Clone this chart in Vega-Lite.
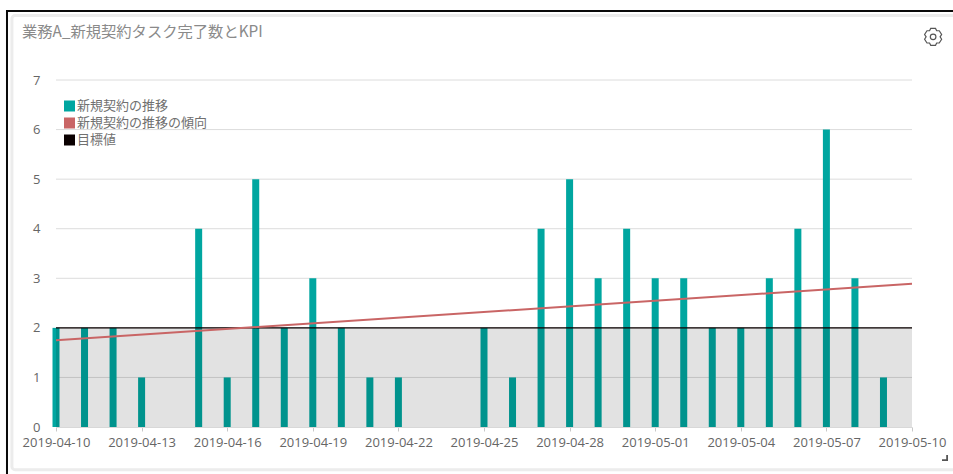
{
"$schema":"https://vega.github.io/schema/vega-lite/v6.json",
"width":856,"height":347,
"autosize":{"type":"none"},
"padding":{"left":56,"top":80,"right":41,"bottom":47},
"background":"#ffffff",
"title":{"text":"業務A_新規契約タスク完了数とKPI","anchor":"start","dx":16,"offset":-30,"font":"Noto Sans CJK JP","fontSize":15.3,"fontWeight":"normal","color":"#8a8a8a"},
"config":{"view":{"stroke":null},"font":"Open Sans"},
"datasets":{
"bars":[
{"date":"2019-04-10","series":"新規契約の推移","count":2},{"date":"2019-04-11","series":"新規契約の推移","count":2},{"date":"2019-04-12","series":"新規契約の推移","count":2},{"date":"2019-04-13","series":"新規契約の推移","count":1},{"date":"2019-04-15","series":"新規契約の推移","count":4},{"date":"2019-04-16","series":"新規契約の推移","count":1},{"date":"2019-04-17","series":"新規契約の推移","count":5},{"date":"2019-04-18","series":"新規契約の推移","count":2},{"date":"2019-04-19","series":"新規契約の推移","count":3},{"date":"2019-04-20","series":"新規契約の推移","count":2},{"date":"2019-04-21","series":"新規契約の推移","count":1},{"date":"2019-04-22","series":"新規契約の推移","count":1},{"date":"2019-04-25","series":"新規契約の推移","count":2},{"date":"2019-04-26","series":"新規契約の推移","count":1},{"date":"2019-04-27","series":"新規契約の推移","count":4},{"date":"2019-04-28","series":"新規契約の推移","count":5},{"date":"2019-04-29","series":"新規契約の推移","count":3},{"date":"2019-04-30","series":"新規契約の推移","count":4},{"date":"2019-05-01","series":"新規契約の推移","count":3},{"date":"2019-05-02","series":"新規契約の推移","count":3},{"date":"2019-05-03","series":"新規契約の推移","count":2},{"date":"2019-05-04","series":"新規契約の推移","count":2},{"date":"2019-05-05","series":"新規契約の推移","count":3},{"date":"2019-05-06","series":"新規契約の推移","count":4},{"date":"2019-05-07","series":"新規契約の推移","count":6},{"date":"2019-05-08","series":"新規契約の推移","count":3},{"date":"2019-05-09","series":"新規契約の推移","count":1}],
"goal":[{"date":"2019-04-10","series":"目標値","value":2},{"date":"2019-05-10","series":"目標値","value":2}],
"trend":[{"date":"2019-04-10","series":"新規契約の推移の傾向","value":1.75},{"date":"2019-05-10","series":"新規契約の推移の傾向","value":2.89}],
"chrome":[{"part":"panel"}],
"gridlines":[{"level":1},{"level":2},{"level":3},{"level":4},{"level":5},{"level":6},{"level":7}]
},
"encoding":{
"x":{"type":"temporal","title":null,
 "scale":{"type":"utc","padding":0,"domain":[{"year":2019,"month":4,"date":10,"utc":true},{"year":2019,"month":5,"date":10,"utc":true}]},
 "axis":{"zindex":1,"values":[{"year":2019,"month":4,"date":10,"utc":true},{"year":2019,"month":4,"date":13,"utc":true},{"year":2019,"month":4,"date":16,"utc":true},{"year":2019,"month":4,"date":19,"utc":true},{"year":2019,"month":4,"date":22,"utc":true},{"year":2019,"month":4,"date":25,"utc":true},{"year":2019,"month":4,"date":28,"utc":true},{"year":2019,"month":5,"date":1,"utc":true},{"year":2019,"month":5,"date":4,"utc":true},{"year":2019,"month":5,"date":7,"utc":true},{"year":2019,"month":5,"date":10,"utc":true}],
  "labelExpr":"utcFormat(datum.value,'%Y-%m-%d')","grid":false,"domainColor":"#d8d8d8","tickColor":"#c8c8c8","tickSize":4,"labelColor":"#666666","labelFont":"Open Sans","labelFontSize":13,"labelPadding":5,"labelFlush":false,"labelOverlap":false}},
"y":{"type":"quantitative","title":null,
 "scale":{"domain":[0,7],"nice":false,"clamp":false},
 "axis":{"zindex":1,"values":[0,1,2,3,4,5,6,7],"format":"d","grid":false,"domain":false,"ticks":false,"labelColor":"#666666","labelFont":"Open Sans","labelFontSize":13,"labelPadding":16}}
},
"layer":[
{"data":{"name":"chrome"},"mark":{"type":"rect","fill":"#ffffff","stroke":"#0a0a0a","strokeWidth":2},
 "encoding":{"x":{"datum":1554706000000},"x2":{"datum":1557700000000},"y":{"datum":8.39},"y2":{"datum":-1.2}}},
{"data":{"name":"chrome"},"mark":{"type":"rect","fill":"#ffffff","stroke":"#ececec","strokeWidth":3,"cornerRadius":3},
 "encoding":{"x":{"datum":1554721000000},"x2":{"datum":1557700000000},"y":{"datum":8.3},"y2":{"datum":-0.86}}},
{"data":{"name":"gridlines"},"mark":{"type":"rule","color":"#dcdcdc","strokeWidth":1},"encoding":{"y":{"field":"level"}}},
{"data":{"name":"bars"},"mark":{"type":"bar","width":7},"encoding":{"x":{"field":"date"},"y":{"field":"count"},
 "color":{"field":"series","type":"nominal","title":null,
 "scale":{"domain":["新規契約の推移","新規契約の推移の傾向","目標値"],"range":["#00a6a0","#c96565","#0a0000"]},
 "legend":{"orient":"none","legendX":7,"legendY":19.5,"title":null,"symbolType":"square","symbolSize":121,"symbolStrokeWidth":0,"symbolOpacity":1,"labelFont":"Noto Sans CJK JP","labelFontSize":13,"labelColor":"#707070","labelOffset":1,"rowPadding":3,"padding":0,"offset":0,
  "encode":{"symbols":{"update":{"fill":{"scale":"color","field":"value"},"stroke":{"value":"transparent"}}}}}}}},
{"data":{"name":"goal"},"mark":{"type":"area","fill":"#000000","opacity":0.115},"encoding":{"x":{"field":"date"},"y":{"field":"value"}}},
{"data":{"name":"goal"},"mark":{"type":"line","strokeWidth":1.2},"encoding":{"x":{"field":"date"},"y":{"field":"value"},"color":{"field":"series","type":"nominal"}}},
{"data":{"name":"trend"},"mark":{"type":"line","strokeWidth":2},"encoding":{"x":{"field":"date"},"y":{"field":"value"},"color":{"field":"series","type":"nominal"}}},
{"data":{"name":"chrome"},"mark":{"type":"point","shape":"M-0.28 -1 L0.28 -1 L0.42 -0.72 L0.72 -0.72 L1 -0.28 L0.82 0 L1 0.28 L0.72 0.72 L0.42 0.72 L0.28 1 L-0.28 1 L-0.42 0.72 L-0.72 0.72 L-1 0.28 L-0.82 0 L-1 -0.28 L-0.72 -0.72 L-0.42 -0.72 Z M0.33 0 A0.33 0.33 0 1 1 -0.33 0 A0.33 0.33 0 1 1 0.33 0 Z","size":290,"filled":false,"stroke":"#555555","strokeWidth":1.2,"opacity":1},
 "encoding":{"x":{"datum":1557510336000},"y":{"datum":7.87}}},
{"data":{"name":"chrome"},"mark":{"type":"point","shape":"M1 -1 L1 1 L-1 1 L-1 0.4 L0.4 0.4 L0.4 -1 Z","size":36,"filled":true,"fill":"#555555","opacity":1},
 "encoding":{"x":{"datum":1557546350000},"y":{"datum":-0.625}}}
]
}
